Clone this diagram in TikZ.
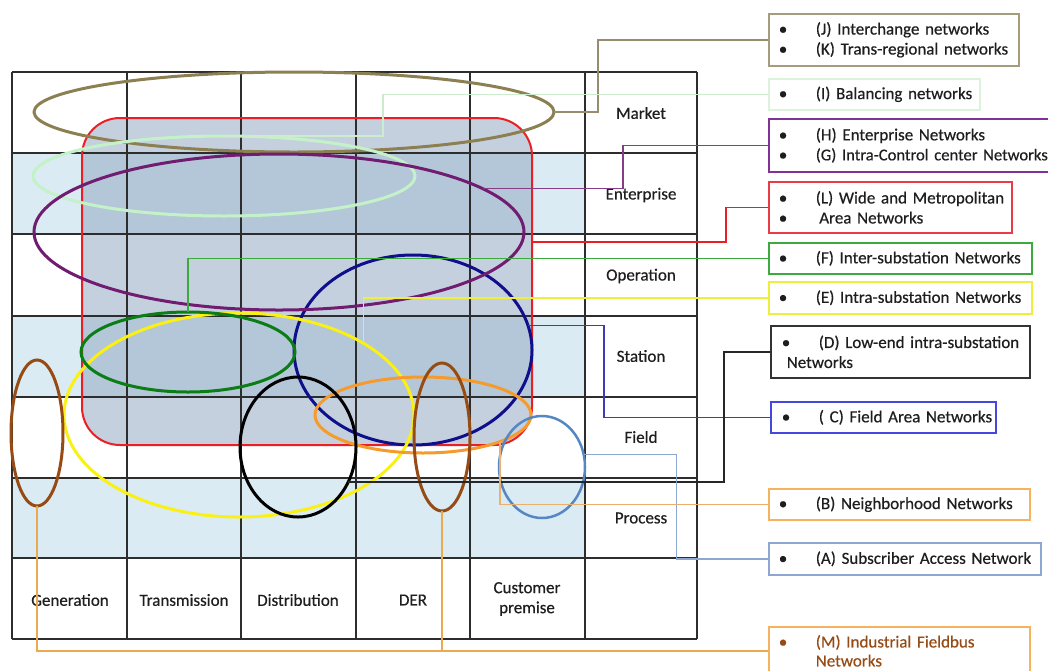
\documentclass[tikz,border=0pt]{standalone}
\usepackage{fontspec}
\setmainfont{Carlito}[FakeBold=0.5]
\usetikzlibrary{shapes.geometric,calc}
\definecolor{gridc}{RGB}{45,45,45}
\definecolor{shadec}{RGB}{218,235,243}
\definecolor{redfill}{RGB}{150,170,195}
\definecolor{olive}{RGB}{140,128,82}
\definecolor{olivebox}{RGB}{165,155,125}
\definecolor{olivecon}{RGB}{150,140,110}
\definecolor{lgreen}{RGB}{195,242,200}
\definecolor{lgreenbox}{RGB}{220,242,220}
\definecolor{lgreencon}{RGB}{205,235,205}
\definecolor{purp}{RGB}{112,28,112}
\definecolor{purpbox}{RGB}{130,50,150}
\definecolor{redc}{RGB}{235,30,35}
\definecolor{redbox}{RGB}{232,60,70}
\definecolor{grn}{RGB}{10,125,20}
\definecolor{grnbox}{RGB}{60,170,60}
\definecolor{yel}{RGB}{250,240,20}
\definecolor{yelbox}{RGB}{240,238,60}
\definecolor{navy}{RGB}{15,15,140}
\definecolor{navycon}{RGB}{60,60,180}
\definecolor{navybox}{RGB}{70,70,225}
\definecolor{org}{RGB}{245,155,45}
\definecolor{orgbox}{RGB}{245,178,95}
\definecolor{orgcon}{RGB}{235,175,110}
\definecolor{mcon}{RGB}{235,170,80}
\definecolor{brn}{RGB}{150,75,20}
\definecolor{stl}{RGB}{85,135,195}
\definecolor{stlbox}{RGB}{140,168,210}
\definecolor{txt}{RGB}{30,30,30}
\newcommand\li[1]{\mbox{\makebox[37pt][l]{•}#1}}
\begin{document}
\begin{tikzpicture}[x=1pt,y=-1pt,
  every node/.style={font=\fontsize{17}{20}\selectfont, text=txt},
  gridline/.style={draw=gridc, line width=1.3pt},
  ell/.style={ellipse, line width=3pt, inner sep=0pt, outer sep=0pt},
  netbox/.style={rectangle, line width=1.6pt, anchor=north west, align=left, inner ysep=0pt, inner xsep=10pt},
  con/.style={line width=1.5pt}]
\useasboundingbox (0,0) rectangle (1048,670);
% shading
\fill[shadec] (12,153) rectangle (585,234);
\fill[shadec] (12,316) rectangle (585,397);
\fill[shadec] (12,478) rectangle (585,558);
% wide area rect fill
\node[rectangle, rounded corners=38pt, fill=redfill, fill opacity=0.55, minimum width=450pt, minimum height=327pt, inner sep=0pt, outer sep=0pt] (rL) at (307,281.5) {};
% grid
\foreach \x in {12,127,241,356,470,585,697} \draw[gridline] (\x,72) -- (\x,639);
\foreach \y in {72,153,234,316,397,478,558,639} \draw[gridline] (12,\y) -- (697,\y);
\draw[redc, line width=2pt, rounded corners=38pt] (rL.south west) rectangle (rL.north east);
% labels
\node (lMarket) at (641,113) {Market};
\node (lEnt) at (641,195) {Enterprise};
\node (lOp) at (641,276) {Operation};
\node (lSt) at (641,356) {Station};
\node (lFi) at (641,437) {Field};
\node (lPr) at (641,518) {Process};
\node (lGen) at (70,600) {Generation};
\node (lTr) at (184,600) {Transmission};
\node (lDi) at (298,600) {Distribution};
\node (lDER) at (413,600) {DER};
\node[align=center] (lCu) at (527,599) {Customer\\premise};
% ellipses
\node[ell, draw=olive, minimum width=520pt, minimum height=80pt] (eJ) at (294,112) {};
\node[ell, draw=lgreen, minimum width=382pt, minimum height=80pt] (eI) at (224,176) {};
\node[ell, draw=navy, minimum width=238pt, minimum height=190pt] (eC) at (413,350) {};
\node[ell, draw=purp, minimum width=490pt, minimum height=156pt] (eH) at (279,232) {};
\node[ell, draw=yel, minimum width=350pt, minimum height=204pt] (eE) at (239,415) {};
\node[ell, draw=grn, minimum width=214pt, minimum height=80pt] (eF) at (188,352) {};
\node[ell, draw=org, minimum width=216pt, minimum height=76pt] (eB) at (423,415) {};
\node[ell, draw=black, minimum width=116pt, minimum height=140pt] (eD) at (298,447) {};
\node[ell, draw=brn, minimum width=52pt, minimum height=146pt] (eM1) at (37,433) {};
\node[ell, draw=brn, minimum width=56pt, minimum height=148pt] (eM2) at (442,437) {};
\node[ell, draw=stl, line width=2.5pt, minimum width=86pt, minimum height=102pt] (eA) at (542,467) {};
% boxes
\node[netbox, draw=olivebox, minimum width=250pt, text width=230pt, minimum height=52pt] (bJ) at (768,13)
  {\li{(J) Interchange networks}\\\li{(K) Trans-regional networks}};
\node[netbox, draw=lgreenbox, minimum width=211pt, text width=191pt, minimum height=31pt] (bI) at (768,78)
  {\li{(I) Balancing networks}};
\node[netbox, draw=purpbox, minimum width=300pt, text width=280pt, minimum height=53pt] (bH) at (768,118)
  {\li{(H) Enterprise Networks}\\\li{\fontsize{16.6}{20}\selectfont(G) Intra-Control center Networks}};
\node[netbox, draw=redbox, minimum width=243pt, text width=223pt, minimum height=51pt] (bL) at (768,181)
  {\li{(L) Wide and Metropolitan}\\\li{\hspace*{3.5pt}Area Networks}};
\node[netbox, draw=grnbox, minimum width=263pt, text width=243pt, minimum height=31pt] (bF) at (768,242)
  {\li{(F) Inter-substation Networks}};
\node[netbox, draw=yelbox, minimum width=263pt, text width=243pt, minimum height=32pt] (bE) at (768,281)
  {\li{(E) Intra-substation Networks}};
\node[netbox, draw=black!80, inner xsep=11pt, minimum width=259pt, text width=237pt, minimum height=52pt] (bD) at (770,325)
  {\li{(D) Low-end intra-substation}\\\hspace*{5pt}Networks};
\node[netbox, draw=navybox, inner xsep=11pt, minimum width=225pt, text width=203pt, minimum height=31pt] (bC) at (770,401)
  {\li{( C) Field Area Networks}};
\node[netbox, draw=orgbox, minimum width=261pt, text width=241pt, minimum height=31pt] (bB) at (768,488)
  {\li{(B) Neighborhood Networks}};
\node[netbox, draw=stlbox, minimum width=272pt, text width=252pt, minimum height=32pt] (bA) at (768,542)
  {\li{(A) Subscriber Access Network}};
\node[netbox, draw=orgbox, minimum width=261pt, text width=241pt, minimum height=48pt, text=brn,
  font=\fontsize{17}{19}\selectfont] (bM) at (768,626)
  {\li{(M) Industrial Fieldbus}\\\hspace*{37pt}Networks};
% connectors
\draw[con, olivecon] (eJ.east) -- ++(44,0) |- (bJ.west);
\draw[con, lgreencon] (eI.north) -- ++(159,0) |- (bI.west);
\draw[con, purp!85!white] (eH.12) -- ++(140,0) |- (bH.west);
\draw[con, redc] ($(rL.east)+(0,-39.5)$) -- ++(194,0) |- (bL.west);
\draw[con, grnbox] (eF.north) |- (bF.west);
\draw[con, yelbox] (eE.30.7) |- (bE.west);
\draw[con, navycon] (eC.12.3) -- ++(76,0) |- (bC.west);
\draw[con, black!85] (eD.-35.8) -- ++(376,0) |- (bD.west);
\draw[con, stlbox] (eA.17.6) -- ++(93,0) |- (bA.west);
\draw[con, orgcon] (eB.-19.6) |- (bB.west);
\draw[con, mcon] (eM1.south) |- (bM.west);
\draw[con, mcon] (eM2.south) |- (bM.west);
\end{tikzpicture}
\end{document}
